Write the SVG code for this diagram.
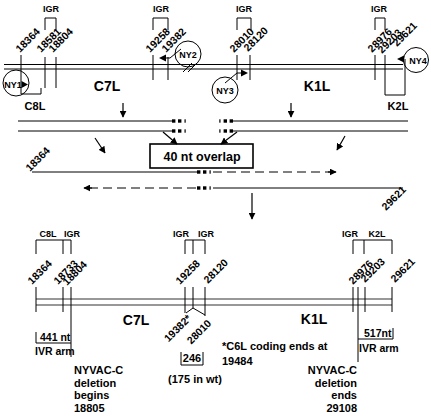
<svg xmlns="http://www.w3.org/2000/svg" width="431" height="416" viewBox="0 0 431 416">
<style>
text{font-family:"Liberation Sans",Arial,Helvetica,sans-serif;font-weight:bold;fill:#000}
.num{font-size:10.5px}
.sm{font-size:9px}
.gene{font-size:14px}
.lab{font-size:11px}
.big{font-size:12.5px}
.ln{stroke:#000;stroke-width:1;fill:none}
.gl{stroke:#777;stroke-width:1.6;fill:none}
.dash{stroke:#000;stroke-width:1;fill:none;stroke-dasharray:9 5}
.circ{stroke:#000;stroke-width:1;fill:none}
.arr{stroke:#000;stroke-width:1.2;fill:none;marker-end:url(#ah)}
.mid{text-anchor:middle}
.end{text-anchor:end}
</style>
<defs>
<marker id="ah" viewBox="0 0 10 10" refX="9" refY="5" markerWidth="7" markerHeight="7" markerUnits="userSpaceOnUse" orient="auto"><path d="M0,0 L10,5 L0,10 z" fill="#000"/></marker>
<g id="brk" fill="#000"><rect x="0" y="-1.7" width="3.4" height="3.4"/><rect x="6" y="-1.7" width="3.4" height="3.4"/><rect x="12.5" y="-1.7" width="1.2" height="3.4"/></g>
</defs>
<rect width="431" height="416" fill="#fff"/>

<g id="top-map">
  <path class="ln" d="M4,64.5 H403 M4,69 H403"/>
  <path class="ln" d="M21,55 V94 H41 V88 M45,57 V88 M56,57 V88 M153,55 V80 M168,57 V80 M237,55 V80 M250,55 V80 M375,55 V80 M385,55 V95 H405 V59"/>
  <path class="ln" d="M45,30 V18 H56 V30 M153,30 V18 H168 V30 M237,30 V18 H251 V30 M375,30 V18 H385 V30"/>
  <text class="sm mid" x="51" y="12">IGR</text>
  <text class="sm mid" x="161" y="12">IGR</text>
  <text class="sm mid" x="244" y="12">IGR</text>
  <text class="sm mid" x="379" y="12">IGR</text>
  <text class="num" transform="translate(20,53) rotate(-45)">18364</text>
  <text class="num" transform="translate(41,53) rotate(-45)">18581</text>
  <text class="num" transform="translate(53,53) rotate(-45)">18804</text>
  <text class="num" transform="translate(150,53) rotate(-45)">19258</text>
  <text class="num" transform="translate(166,53) rotate(-45)">19382</text>
  <text class="num" transform="translate(234,53) rotate(-45)">28010</text>
  <text class="num" transform="translate(248,52) rotate(-45)">28120</text>
  <text class="num" transform="translate(372,53) rotate(-45)">28976</text>
  <text class="num" transform="translate(382,54) rotate(-45)">29203</text>
  <text class="num" transform="translate(397,47) rotate(-45)">29621</text>
  <text class="gene mid" x="107" y="91">C7L</text>
  <text class="gene mid" x="317" y="91">K1L</text>
  <text class="lab mid" x="35" y="110">C8L</text>
  <text class="lab mid" x="398" y="110">K2L</text>
  <path class="ln" stroke-width="1.3" d="M183,72 L192,63 M188,72 L197,63"/>
</g>

<g id="NY1">
  <circle class="circ" cx="16" cy="83" r="13"/>
  <path d="M21.5,81 L28,84.5 L21.5,88 z" fill="#000"/>
  <text class="sm mid" x="13" y="87.5">NY1</text>
</g>
<g id="NY2">
  <circle class="circ" cx="188" cy="54" r="13" fill="#fff"/>
  <text class="sm mid" x="188" y="57.5">NY2</text>
</g>
<g id="NY3">
  <circle class="circ" cx="225" cy="90" r="13"/>
  <text class="sm mid" x="225" y="93.5">NY3</text>
</g>
<g id="NY4">
  <circle class="circ" cx="416" cy="60" r="12.5"/>
  <text class="sm mid" x="418" y="63.5">NY4</text>
</g>

<g id="middle">
  <path class="ln" d="M18,121 H172 M18,131 H172 M233,121 H408 M233,131 H408"/>
  <use href="#brk" transform="translate(172,121)"/>
  <use href="#brk" transform="translate(172,131)"/>
  <use href="#brk" transform="translate(233,121) scale(-1,1)"/>
  <use href="#brk" transform="translate(233,131) scale(-1,1)"/>
  <path class="ln" d="M32,172 H197 M213,188 H403"/>
  <use href="#brk" transform="translate(197,172)"/>
  <use href="#brk" transform="translate(197,188)"/>
  <text class="num" transform="translate(30,172) rotate(-45)">18364</text>
  <text class="num" transform="translate(386,211) rotate(-45)">29621</text>
</g>
<g id="overlap">
  <rect x="150" y="144" width="103" height="24" fill="#fff" stroke="#000" stroke-width="1.6"/>
  <text class="big mid" x="202" y="161">40 nt overlap</text>
</g>

<g id="connectors">
  <path class="ln" d="M181,49 L170,58 H165"/>
  <path d="M166,54.5 L159,58 L166,61.5 z" fill="#000"/>
  <path class="ln" d="M225,83 L237,73 H242"/>
  <path d="M241,69.5 L248,73 L241,76.5 z" fill="#000"/>
  <path d="M404,55.5 L397,59 L404,62.5 z" fill="#000"/>
  <path class="arr" d="M123,103 V117"/>
  <path class="arr" d="M291,103 V117"/>
  <path class="arr" d="M163,132 L177,144"/>
  <path class="arr" d="M237,132 L221,144"/>
  <path class="arr" d="M95,138 L105,153"/>
  <path class="arr" d="M345,136 L337,150"/>
  <path class="dash" d="M213,172 H330"/>
  <path class="arr" d="M328,172 H336"/>
  <path class="dash" d="M196,188 H90"/>
  <path class="arr" d="M92,188 H84"/>
  <path class="arr" d="M252,193 V219"/>
</g>

<g id="bottom-map">
  <path class="gl" d="M36,299 H392 M36,305 H392"/>
  <path class="ln" d="M36,287 V312 M63,287 V312 M71,287 V357 M185,287 V313 M193,287 V308 M205,287 V316 M353,287 V312 M358,287 V362 M365,287 V312 M392,287 V312"/>
  <path class="ln" d="M186,313 L193,308 L205,315"/>
  <path class="ln" d="M36,254 V240 H71 V254 M63,240 V254 M185,254 V240 H205 V254 M193,240 V254 M353,254 V240 H392 V254 M364,240 V254"/>
  <text class="sm mid" x="48" y="237">C8L</text>
  <text class="sm mid" x="72" y="237">IGR</text>
  <text class="sm mid" x="181" y="237">IGR</text>
  <text class="sm mid" x="206" y="237">IGR</text>
  <text class="sm mid" x="350" y="237">IGR</text>
  <text class="sm mid" x="377" y="237">K2L</text>
  <text class="num" transform="translate(32,285) rotate(-45)">18364</text>
  <text class="num" transform="translate(58,285) rotate(-45)">18733</text>
  <text class="num" transform="translate(67,286) rotate(-45)">18804</text>
  <text class="num" transform="translate(180,285) rotate(-45)">19258</text>
  <text class="num" transform="translate(208,284) rotate(-45)">28120</text>
  <text class="num" transform="translate(353,285) rotate(-45)">28976</text>
  <text class="num" transform="translate(365,283) rotate(-45)">29203</text>
  <text class="num" transform="translate(395,283) rotate(-45)">29621</text>
  <text class="num end" transform="translate(192,319) rotate(-45)">19382*</text>
  <text class="num end" transform="translate(212,324) rotate(-45)">28010</text>
  <text class="gene mid" x="136" y="325">C7L</text>
  <text class="gene mid" x="314" y="324">K1L</text>
  <path class="ln" d="M36,332 V343 H71"/>
  <text class="num" x="40" y="341">441 nt</text>
  <text class="num" x="35" y="355">IVR arm</text>
  <path class="ln" d="M358,339 H393 V328"/>
  <text class="num" x="364" y="337">517nt</text>
  <text class="num" x="359" y="352">IVR arm</text>
  <path class="ln" d="M181,352 V365 H203 V352"/>
  <text class="lab mid" x="192" y="362">246</text>
  <text class="lab mid" x="195" y="383">(175 in wt)</text>
  <text class="lab" x="222" y="350">*C6L coding ends at</text>
  <text class="lab" x="222" y="365">19484</text>
  <text class="lab" x="74" y="374">NYVAC-C</text>
  <text class="lab" x="74" y="386.5">deletion</text>
  <text class="lab" x="74" y="399">begins</text>
  <text class="lab" x="74" y="411.5">18805</text>
  <text class="lab end" x="357" y="374">NYVAC-C</text>
  <text class="lab end" x="357" y="386.5">deletion</text>
  <text class="lab end" x="357" y="399">ends</text>
  <text class="lab end" x="357" y="411.5">29108</text>
</g>
</svg>
